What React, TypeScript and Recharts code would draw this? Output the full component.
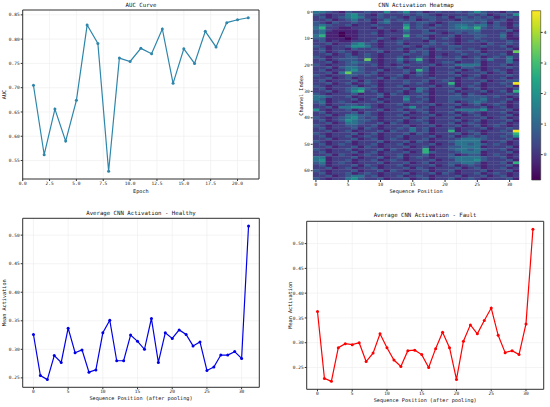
import React from "react";
import {
  LineChart,
  Line,
  XAxis,
  YAxis,
  CartesianGrid,
  ReferenceArea,
  ScatterChart,
  Scatter,
  ComposedChart,
} from "recharts";

// ---- data ----
const epochs = [1, 2, 3, 4, 5, 6, 7, 8, 9, 10, 11, 12, 13, 14, 15, 16, 17, 18, 19, 20, 21];
const aucValues = [
  0.705, 0.562, 0.656, 0.59, 0.674, 0.829, 0.791, 0.528, 0.761, 0.754, 0.781,
  0.77, 0.821, 0.709, 0.78, 0.75, 0.816, 0.784, 0.834, 0.84, 0.844,
];

const seqPositions = [
  0, 1, 2, 3, 4, 5, 6, 7, 8, 9, 10, 11, 12, 13, 14, 15,
  16, 17, 18, 19, 20, 21, 22, 23, 24, 25, 26, 27, 28, 29, 30, 31,
];
const healthyMean = [
  0.326, 0.254, 0.247, 0.289, 0.277, 0.337, 0.294, 0.299, 0.26, 0.264, 0.329,
  0.351, 0.28, 0.28, 0.325, 0.314, 0.3, 0.354, 0.277, 0.329, 0.319, 0.334,
  0.326, 0.306, 0.313, 0.263, 0.269, 0.29, 0.29, 0.296, 0.284, 0.516,
];
const faultMean = [
  0.363, 0.228, 0.222, 0.29, 0.298, 0.296, 0.3, 0.262, 0.279, 0.318, 0.29,
  0.265, 0.252, 0.284, 0.285, 0.276, 0.25, 0.288, 0.321, 0.29, 0.226, 0.303,
  0.336, 0.318, 0.345, 0.37, 0.315, 0.28, 0.284, 0.276, 0.338, 0.529,
];

// heatmap: 64 channels x 32 positions, one digit per cell (index into heatLevels)
const heatLevels = [-0.8, -0.3, 0.2, 0.7, 1.3, 1.9, 2.7, 3.4, 4.1, 4.6];
const heatRows = [
  "4432 1322 3225 2352 3123 2232 3532 2132",
  "3212 2453 2132 2232 3321 2222 3231 2325",
  "2312 3454 2232 3213 2332 3133 2323 1232",
  "2231 2342 3124 2323 1232 2213 3332 2312",
  "3213 2232 2134 2232 3321 2333 3231 3212",
  "3432 2312 2322 2252 3213 2344 3442 3213",
  "4622 1122 2132 2262 3232 2345 4632 3312",
  "3421 1112 2212 1242 2312 2333 3422 2231",
  "3411 0112 2312 2232 2332 1232 3322 2312",
  "4611 0112 2212 2262 3212 2312 2332 2412",
  "3311 1012 2232 1232 2312 3212 2322 2311",
  "2312 1122 2312 2322 2132 2212 3232 2232",
  "2231 2245 3212 2312 2232 3212 2213 2232",
  "3212 2355 4212 2232 1322 2332 2232 2312",
  "2312 2132 2322 2312 3213 2322 3212 2231",
  "2312 3212 2231 2213 2312 2232 2312 2217",
  "2231 2312 3212 2232 2312 1223 2232 2312",
  "3212 2332 3212 2312 3213 2231 2312 3242",
  "2312 3332 7212 2423 6212 2232 2324 2241",
  "2231 2343 3212 2312 3212 3312 2312 2242",
  "3212 2332 2312 1232 2231 2244 4412 2312",
  "2231 3443 2212 2312 2312 2313 3212 2232",
  "2312 2453 2231 2232 6312 2231 2312 3212",
  "2231 4733 2312 2231 3212 2312 2231 2312",
  "3212 2332 3212 2312 3212 2231 2312 2232",
  "2231 2312 2231 3212 2232 2312 3212 2312",
  "2312 2231 3212 2232 2312 3212 2231 2233",
  "2231 2312 3212 2232 3212 2612 2312 2329",
  "3212 2231 2312 2312 2231 2312 3212 2231",
  "2312 2345 3212 2231 4312 2231 2312 2213",
  "2231 2356 2312 2312 4212 2312 2231 2316",
  "3212 2231 2231 3212 2312 2231 3212 2232",
  "4432 2312 2231 2242 3212 2332 3332 3212",
  "4312 2231 2312 2252 2312 2333 3342 2231",
  "3412 3212 2231 2232 3212 2312 3432 2312",
  "2312 2332 3212 2312 2231 2231 2312 3212",
  "2231 4455 4212 2235 2312 2312 2231 2312",
  "5212 2312 2231 2312 3212 2244 4452 2231",
  "2312 2231 3212 2231 2312 2312 3212 2312",
  "2231 2443 3212 2312 2231 2231 2312 2231",
  "3212 3453 2312 2231 2312 2312 2231 2312",
  "2312 3543 3212 2312 3212 2231 2312 2231",
  "2231 2443 2231 3212 2312 2312 3212 2312",
  "3212 2332 2312 2231 2231 2231 2312 3212",
  "2312 2231 3212 2324 2312 2312 2231 2232",
  "2231 2312 2231 3224 2312 2612 3212 2329",
  "3212 2231 2312 2231 3212 2231 2312 2236",
  "2312 2312 3212 2312 2231 2312 3232 2325",
  "2231 2231 2312 3212 2312 2234 4432 2231",
  "3212 2312 2231 2231 3212 2344 4412 2312",
  "2312 3212 2312 2312 2231 2244 3432 3212",
  "2231 2231 3212 2231 2312 2334 4412 2231",
  "3212 2312 2231 3212 2612 2344 3432 2312",
  "2312 2231 2312 2231 2632 2234 4412 2231",
  "2231 3212 3212 2312 2312 2312 3312 3212",
  "4412 2231 2231 2312 3212 2344 4432 2312",
  "4512 2312 2312 3212 2231 2244 4532 2231",
  "3412 3212 2231 2231 2312 2334 4312 2316",
  "2312 2231 3212 2312 2231 2312 3212 2231",
  "2231 2312 2312 2231 3212 2231 2312 2312",
  "3212 2231 2231 3212 2312 2312 2231 2231",
  "2312 2312 3212 2231 2231 3212 2312 3212",
  "2231 2344 2312 2312 3212 2231 2231 2312",
  "3212 2453 2231 2231 2312 2312 3212 2231",
];

const aucXTicks = [0, 2.5, 5, 7.5, 10, 12.5, 15, 17.5, 20];
const aucYTicks = [0.55, 0.6, 0.65, 0.7, 0.75, 0.8, 0.85];
const seqTicks = [0, 5, 10, 15, 20, 25, 30];
const meanTicks = [0.25, 0.3, 0.35, 0.4, 0.45, 0.5];
const channelTicks = [0, 10, 20, 30, 40, 50, 60];
const colorbarTicks = [0, 1, 2, 3, 4];

const VMIN = -0.83;
const VMAX = 4.71;

const viridisStops = [
  "#440154", "#482475", "#414487", "#355f8d", "#2a788e", "#21918c",
  "#22a884", "#44bf70", "#7ad151", "#bddf26", "#fde725",
];

// ---- helpers ----
const FONT = "'DejaVu Sans Mono', monospace";
const tickStyle = { fontSize: 4.5, fill: "#222", fontFamily: FONT };
const labelStyle = { fontSize: 5.2, fill: "#111", fontFamily: FONT };

function hexToRgb(h: string) {
  const n = parseInt(h.slice(1), 16);
  return [(n >> 16) & 255, (n >> 8) & 255, n & 255];
}

function viridis(t: number) {
  const c = Math.max(0, Math.min(1, t)) * (viridisStops.length - 1);
  const i = Math.min(Math.floor(c), viridisStops.length - 2);
  const f = c - i;
  const a = hexToRgb(viridisStops[i]);
  const b = hexToRgb(viridisStops[i + 1]);
  const m = a.map((v, k) => Math.round(v + (b[k] - v) * f));
  return `rgb(${m[0]},${m[1]},${m[2]})`;
}

const aucData = epochs.map((e, i) => ({ x: e, y: aucValues[i] }));
const healthyData = seqPositions.map((p, i) => ({ x: p, y: healthyMean[i] }));
const faultData = seqPositions.map((p, i) => ({ x: p, y: faultMean[i] }));

const heatCells = heatRows.flatMap((row, r) =>
  row
    .replace(/ /g, "")
    .split("")
    .map((ch, c) => ({ x: c, y: r, v: heatLevels[Number(ch)] }))
);

function Title({ x, y, text }: { x: number; y: number; text: string }) {
  return (
    <div
      style={{
        position: "absolute",
        left: x,
        top: y,
        transform: "translate(-50%, -50%)",
        fontFamily: FONT,
        fontSize: 5.7,
        color: "#111",
        whiteSpace: "nowrap",
        lineHeight: 1,
      }}
    >
      {text}
    </div>
  );
}

interface PanelProps {
  left: number;
  top: number;
  height: number;
  margin: { top: number; right: number; bottom: number; left: number };
  yWidth: number;
  xHeight: number;
  data: { x: number; y: number }[];
  xDomain: [number, number];
  xTicks: number[];
  xFmt: (v: number) => string;
  yDomain: [number, number];
  yTicks: number[];
  color: string;
  xLabel: string;
  yLabel: string;
  xLabelOffset: number;
  yLabelOffset: number;
}

function LinePanel(p: PanelProps) {
  return (
    <div style={{ position: "absolute", left: p.left, top: p.top }}>
      <LineChart width={275} height={p.height} data={p.data} margin={p.margin}>
        <CartesianGrid stroke="#ececec" strokeWidth={0.6} />
        <XAxis
          type="number"
          dataKey="x"
          domain={p.xDomain}
          ticks={p.xTicks}
          interval={0}
          tickFormatter={p.xFmt}
          allowDataOverflow
          axisLine={false}
          tickSize={2}
          tickMargin={1}
          height={p.xHeight}
          stroke="#333"
          tick={tickStyle}
          label={{ value: p.xLabel, position: "insideBottom", offset: p.xLabelOffset, style: labelStyle }}
        />
        <YAxis
          type="number"
          domain={p.yDomain}
          ticks={p.yTicks}
          interval={0}
          tickFormatter={(v: number) => v.toFixed(2)}
          allowDataOverflow
          axisLine={false}
          tickSize={2}
          tickMargin={1}
          width={p.yWidth}
          stroke="#333"
          tick={tickStyle}
          label={{
            value: p.yLabel,
            angle: -90,
            position: "insideLeft",
            offset: p.yLabelOffset,
            style: { ...labelStyle, textAnchor: "middle" },
          }}
        />
        <Line
          type="linear"
          dataKey="y"
          stroke={p.color}
          strokeWidth={1.2}
          dot={{ r: 1.5, fill: p.color, stroke: p.color, strokeWidth: 0 }}
          isAnimationActive={false}
        />
        <ReferenceArea
          x1={p.xDomain[0]}
          x2={p.xDomain[1]}
          y1={p.yDomain[0]}
          y2={p.yDomain[1]}
          fill="none"
          stroke="#333"
          strokeWidth={1}
          ifOverflow="visible"
        />
      </LineChart>
    </div>
  );
}

// heatmap geometry
const HM_W = 250;
const HM_H = 200;
const HM_MARGIN = { top: 10.7, right: 5.7, bottom: 0, left: 0 };
const HM_Y_W = 37.7;
const HM_X_H = 20;
const CELL_W = (HM_W - HM_MARGIN.right - HM_Y_W) / 32;
const CELL_H = (HM_H - HM_MARGIN.top - HM_X_H) / 64;

const HeatCell = (props: any) => {
  const { cx, cy, payload } = props;
  return (
    <rect
      x={cx - CELL_W / 2}
      y={cy - CELL_H / 2}
      width={CELL_W + 0.35}
      height={CELL_H + 0.35}
      fill={viridis((payload.v - VMIN) / (VMAX - VMIN))}
    />
  );
};

function Heatmap() {
  return (
    <div style={{ position: "absolute", left: 275, top: 0 }}>
      <ScatterChart width={HM_W} height={HM_H} margin={HM_MARGIN}>
        <XAxis
          type="number"
          dataKey="x"
          domain={[-0.5, 31.5]}
          ticks={seqTicks}
          interval={0}
          allowDataOverflow
          axisLine={false}
          tickSize={2}
          tickMargin={1}
          height={HM_X_H}
          stroke="#333"
          tick={tickStyle}
          label={{ value: "Sequence Position", position: "insideBottom", offset: 7, style: labelStyle }}
        />
        <YAxis
          type="number"
          dataKey="y"
          domain={[-0.5, 63.5]}
          reversed
          ticks={channelTicks}
          interval={0}
          allowDataOverflow
          axisLine={false}
          tickSize={2}
          tickMargin={1}
          width={HM_Y_W}
          stroke="#333"
          tick={tickStyle}
          label={{
            value: "Channel Index",
            angle: -90,
            position: "insideLeft",
            offset: 25.7,
            style: { ...labelStyle, textAnchor: "middle" },
          }}
        />
        <Scatter data={heatCells} shape={HeatCell} isAnimationActive={false} />
      </ScatterChart>
    </div>
  );
}

function Colorbar() {
  return (
    <div style={{ position: "absolute", left: 525, top: 0 }}>
      <ComposedChart
        width={25}
        height={200}
        data={[{ x: 0, y: 0 }, { x: 1, y: 0 }]}
        margin={{ top: 10.7, right: 0, bottom: 20, left: 6.7 }}
      >
        <defs>
          <linearGradient id="viridisBar" x1="0" y1="1" x2="0" y2="0">
            {viridisStops.map((c, i) => (
              <stop key={c} offset={i / (viridisStops.length - 1)} stopColor={c} />
            ))}
          </linearGradient>
        </defs>
        <XAxis type="number" dataKey="x" domain={[0, 1]} hide />
        <YAxis
          type="number"
          orientation="right"
          domain={[VMIN, VMAX]}
          ticks={colorbarTicks}
          interval={0}
          allowDataOverflow
          axisLine={false}
          tickSize={2}
          tickMargin={1}
          width={9.3}
          stroke="#333"
          tick={tickStyle}
        />
        <ReferenceArea
          x1={0}
          x2={1}
          y1={VMIN}
          y2={VMAX}
          fill="url(#viridisBar)"
          fillOpacity={1}
          stroke="#333"
          strokeWidth={0.6}
          ifOverflow="visible"
        />
        <Line dataKey="y" stroke="none" dot={false} activeDot={false} isAnimationActive={false} />
      </ComposedChart>
    </div>
  );
}

export default function App() {
  return (
    <div
      style={{
        position: "absolute",
        left: 0,
        top: 0,
        width: 550,
        height: 407,
        background: "#fff",
        overflow: "hidden",
      }}
    >
      <Title x={141} y={6} text="AUC Curve" />
      <LinePanel
        left={0}
        top={0}
        height={200}
        margin={{ top: 10, right: 16, bottom: 0, left: 0 }}
        yWidth={22.7}
        xHeight={21}
        data={aucData}
        xDomain={[0, 22]}
        xTicks={aucXTicks}
        xFmt={(v) => v.toFixed(1)}
        yDomain={[0.512, 0.86]}
        yTicks={aucYTicks}
        color="#2e86ab"
        xLabel="Epoch"
        yLabel="AUC"
        xLabelOffset={7}
        yLabelOffset={4}
      />

      <Title x={416} y={6} text="CNN Activation Heatmap" />
      <Heatmap />
      <Colorbar />

      <Title x={141} y={214} text="Average CNN Activation - Healthy" />
      <LinePanel
        left={0}
        top={205}
        height={202}
        margin={{ top: 13.3, right: 15.7, bottom: 0, left: 0 }}
        yWidth={22.7}
        xHeight={19.7}
        data={healthyData}
        xDomain={[-1.55, 32.55]}
        xTicks={seqTicks}
        xFmt={(v) => String(v)}
        yDomain={[0.2335, 0.5295]}
        yTicks={meanTicks}
        color="#0000e6"
        xLabel="Sequence Position (after pooling)"
        yLabel="Mean Activation"
        xLabelOffset={7.5}
        yLabelOffset={4}
      />

      <Title x={425} y={216} text="Average CNN Activation - Fault" />
      <LinePanel
        left={275}
        top={205}
        height={202}
        margin={{ top: 16.3, right: 6.3, bottom: 0, left: 0 }}
        yWidth={31.7}
        xHeight={17.7}
        data={faultData}
        xDomain={[-1.55, 32.55]}
        xTicks={seqTicks}
        xFmt={(v) => String(v)}
        yDomain={[0.206, 0.545]}
        yTicks={meanTicks}
        color="#ff0000"
        xLabel="Sequence Position (after pooling)"
        yLabel="Mean Activation"
        xLabelOffset={5.5}
        yLabelOffset={15}
      />
    </div>
  );
}
